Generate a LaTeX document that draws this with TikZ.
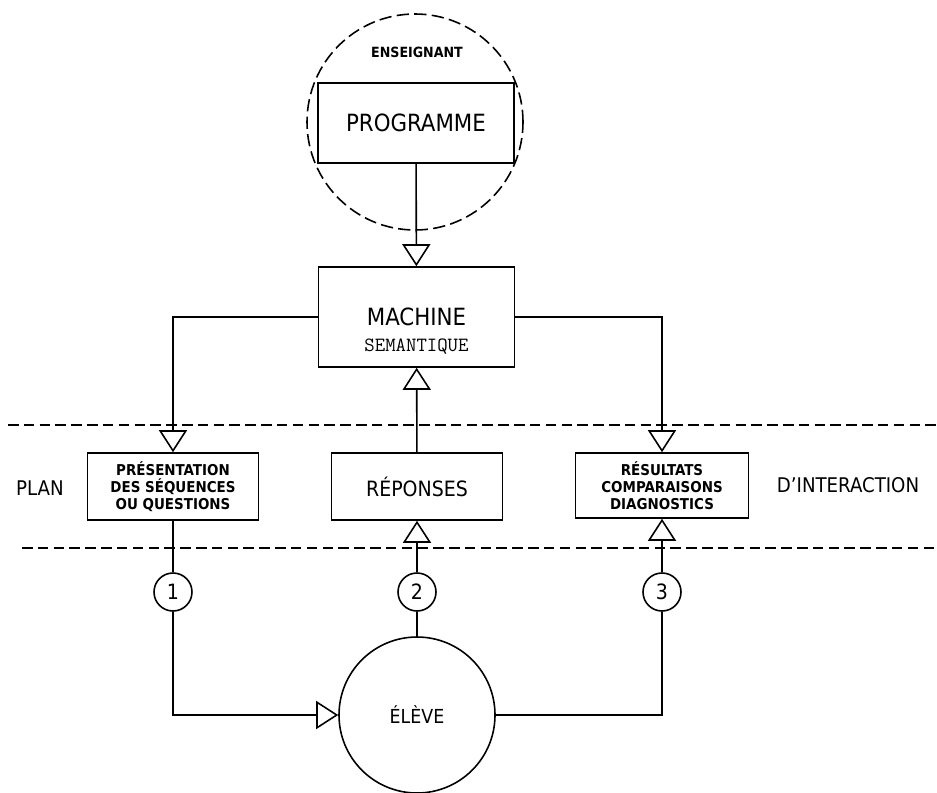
\documentclass[tikz,border=0pt]{standalone}
\usepackage{fontspec}
\setmainfont{DejaVu Sans Condensed}
\usetikzlibrary{arrows.meta, positioning, calc}

\begin{document}
\begin{tikzpicture}[
    x=0.2mm, y=-0.2mm,
    box/.style={
        rectangle, draw, line width=0.9pt, align=center, inner sep=1pt,
        minimum width=3.42cm, minimum height=1.34cm
    },
    bigbox/.style={
        box, minimum width=3.92cm, minimum height=1.6cm,
        font=\fontsize{13.5}{16}\selectfont
    },
    smallbox/.style={box, font=\bfseries\fontsize{8.5}{9.6}\selectfont},
    num/.style={
        circle, draw, line width=0.9pt, minimum size=0.76cm, inner sep=0pt,
        font=\fontsize{12}{14}\selectfont
    },
    bigcircle/.style={circle, draw, line width=0.9pt, inner sep=0pt},
    sep/.style={draw, dash pattern=on 6pt off 3pt, line width=0.9pt},
    link/.style={draw, line width=0.9pt},
    line/.style={draw, line width=0.9pt, -{Triangle[open, length=0.44cm, width=0.56cm]}}
]
    \useasboundingbox (0,0) rectangle (937,792);

    \node [bigcircle, minimum size=4.32cm, dash pattern=on 7pt off 3pt] (ens) at (415,122) {};
    \node [font=\bfseries\fontsize{8}{9}\selectfont] (enslabel) at (417,52) {ENSEIGNANT};
    \node [bigbox] (prog) at (416,123) {PROGRAMME};

    \node [bigbox, minimum height=2cm] (machine) at (416.5,317) {MACHINE};
    \node [font=\ttfamily\fontsize{11.5}{13}\selectfont] (sem) at (416.5,347) {SEMANTIQUE};

    \node [smallbox] (pres) at (173,486.5) {PRÉSENTATION\\DES SÉQUENCES\\OU QUESTIONS};
    \node [box, font=\fontsize{12}{14}\selectfont] (rep) at (417,486.5) {RÉPONSES};
    \node [smallbox, minimum width=3.46cm, minimum height=1.3cm] (res) at (662,485.5) {RÉSULTATS\\COMPARAISONS\\DIAGNOSTICS};

    \node [font=\fontsize{11.5}{13}\selectfont] (plan) at (40,488) {PLAN};
    \node [font=\fontsize{11.5}{13}\selectfont] (inter) at (848,485) {D’INTERACTION};

    \node [num] (n1) at (173,592) {1};
    \node [num] (n2) at (417,592) {2};
    \node [num] (n3) at (662,592) {3};

    \node [bigcircle, minimum size=3.12cm, font=\fontsize{11}{13}\selectfont] (eleve) at (417,715) {ÉLÈVE};

    % plan d'interaction
    \coordinate (sepA) at (8,425);   \coordinate (sepB) at (937,425);
    \coordinate (sepC) at (22,548);  \coordinate (sepD) at (937,548);
    \path [sep] (sepA) -- (sepB);
    \path [sep] (sepC) -- (sepD);

    \path [line] (prog) -- (machine);
    \path [line] (machine.west) -| (pres.north);
    \path [line] (machine.east) -| (res.north);
    \path [line] (rep) -- (machine);

    \path [link] (pres) -- (n1);
    \path [line] (n1.south) |- (eleve.west);
    \path [link] (eleve) -- (n2);
    \path [line] (n2) -- (rep);
    \path [link] (eleve.east) -| (n3.south);
    \path [line] (n3) -- (res);
\end{tikzpicture}
\end{document}
